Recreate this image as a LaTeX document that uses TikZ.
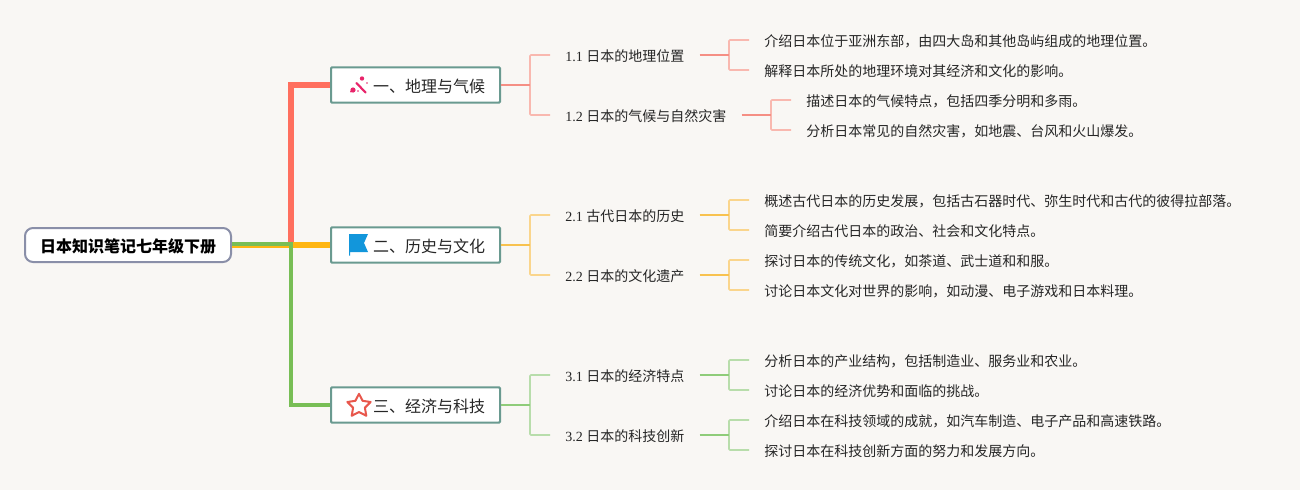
\documentclass[tikz,border=0pt]{standalone}
\usepackage{fontspec}
\setmainfont{Liberation Serif}
\newfontfamily\cjk{Noto Sans CJK SC}
\definecolor{bg}{HTML}{F9F7F4}
\definecolor{txt}{HTML}{262626}
\definecolor{mainred}{HTML}{FF6F5E}
\definecolor{mainyel}{HTML}{FFB612}
\definecolor{maingrn}{HTML}{78BE55}
\definecolor{rootedge}{HTML}{8A8FA8}
\definecolor{boxedge}{HTML}{6A9A90}
\definecolor{redA}{HTML}{F58F84}\definecolor{redB}{HTML}{F9B8AF}
\definecolor{yelA}{HTML}{F8C24F}\definecolor{yelB}{HTML}{FAD58C}
\definecolor{grnA}{HTML}{8FCC7A}\definecolor{grnB}{HTML}{B8DDAB}
\definecolor{wandc}{HTML}{E8246A}
\definecolor{flagb}{HTML}{1296DB}
\definecolor{starc}{HTML}{E8574C}
\tikzset{
  x=0.75pt,y=-0.75pt,
  rootbox/.style={draw=rootedge,line width=1.5pt,fill=white,rounded corners=6pt,minimum width=154.5pt,minimum height=25.5pt,inner sep=0pt,text height=12.7pt,text depth=2pt,font=\cjk\bfseries\fontsize{12pt}{14pt}\selectfont,text=black},
  branchbox/.style={draw=boxedge,line width=1.5pt,fill=white,rounded corners=0.8pt,minimum height=26.5pt,inner ysep=0pt,inner xsep=11.25pt,text width=104.25pt,align=right,text height=12.7pt,text depth=2pt,font=\cjk\fontsize{12pt}{14pt}\selectfont,text=txt},
  subbox/.style={anchor=west,inner xsep=11.25pt,inner ysep=0pt,minimum height=15pt,text height=11pt,text depth=1.5pt,font=\fontsize{10.5pt}{13pt}\selectfont,text=txt},
  leafbox/.style={anchor=west,inner xsep=11.25pt,inner ysep=0pt,minimum height=15pt,text height=11pt,text depth=1.5pt,font=\cjk\fontsize{10.5pt}{13pt}\selectfont,text=txt},
  mainlink/.style={line width=4.5pt,line join=miter},
  stub/.style={line width=1.2pt},
  twig/.style={line width=1.2pt,rounded corners=0.8pt},
}
\newcommand{\fork}[5]{% parent, child1, child2, midx, colours
  \draw[twig,#5B] (#2.west) -| (#4,0 |- #1.east) |- (#3.west);
  \draw[stub,#5A] (#1.east) -- (#4,0 |- #1.east);
}
\begin{document}
\begin{tikzpicture}
\path[fill=bg,use as bounding box] (0,0) rectangle (1300,490);
% nodes
\node[rootbox] (root) at (128,245) {日本知识笔记七年级下册};
\node[branchbox] (b1) at (415.5,85) {一、地理与气候};
\node[branchbox] (b2) at (415.5,245) {二、历史与文化};
\node[branchbox] (b3) at (415.5,405) {三、经济与科技};
\node[subbox] (s11) at (550,55) {1.1 {\cjk 日本的地理位置}};
\node[subbox] (s12) at (550,115) {1.2 {\cjk 日本的气候与自然灾害}};
\node[subbox] (s21) at (550,215) {2.1 {\cjk 古代日本的历史}};
\node[subbox] (s22) at (550,275) {2.2 {\cjk 日本的文化遗产}};
\node[subbox] (s31) at (550,375) {3.1 {\cjk 日本的经济特点}};
\node[subbox] (s32) at (550,435) {3.2 {\cjk 日本的科技创新}};
\node[leafbox] (l1) at (749,40) {介绍日本位于亚洲东部，由四大岛和其他岛屿组成的地理位置。};
\node[leafbox] (l2) at (749,70) {解释日本所处的地理环境对其经济和文化的影响。};
\node[leafbox] (l3) at (791,100) {描述日本的气候特点，包括四季分明和多雨。};
\node[leafbox] (l4) at (791,130) {分析日本常见的自然灾害，如地震、台风和火山爆发。};
\node[leafbox] (l5) at (749,200) {概述古代日本的历史发展，包括古石器时代、弥生时代和古代的彼得拉部落。};
\node[leafbox] (l6) at (749,230) {简要介绍古代日本的政治、社会和文化特点。};
\node[leafbox] (l7) at (749,260) {探讨日本的传统文化，如茶道、武士道和和服。};
\node[leafbox] (l8) at (749,290) {讨论日本文化对世界的影响，如动漫、电子游戏和日本料理。};
\node[leafbox] (l9) at (749,360) {分析日本的产业结构，包括制造业、服务业和农业。};
\node[leafbox] (l10) at (749,390) {讨论日本的经济优势和面临的挑战。};
\node[leafbox] (l11) at (749,420) {介绍日本在科技领域的成就，如汽车制造、电子产品和高速铁路。};
\node[leafbox] (l12) at (749,450) {探讨日本在科技创新方面的努力和发展方向。};
% main links
\coordinate (j) at (291,245);
\draw[mainlink,mainred] (root.east) -- (j) |- (b1.west);
\draw[mainlink,mainyel] (root.east) -- (b2.west);
\draw[line width=3.2pt,maingrn] ([yshift=1pt]root.east) -- ([yshift=1pt]j) |- (b3.west);
% forks
\fork{b1}{s11}{s12}{530}{red}
\fork{s11}{l1}{l2}{729}{red}
\fork{s12}{l3}{l4}{771}{red}
\fork{b2}{s21}{s22}{530}{yel}
\fork{s21}{l5}{l6}{729}{yel}
\fork{s22}{l7}{l8}{729}{yel}
\fork{b3}{s31}{s32}{530}{grn}
\fork{s31}{l9}{l10}{729}{grn}
\fork{s32}{l11}{l12}{729}{grn}
% icon: wand
\draw[wandc,line width=1.6pt,line cap=round] (356.5,83) -- (365.5,92.5);
\fill[wandc] (353,90) circle (2.6);
\fill[wandc] (362,78.5) circle (2.2);
\fill[wandc] (351,91.5) circle (1);
\fill[wandc] (367,83) circle (0.9);
\fill[wandc] (358,91) circle (0.9);
% icon: flag
\fill[flagb] (349,234) -- (368,234) -- (364,243) -- (368,252) -- (350,252) -- (350,255.5) -- (349,255.5) -- cycle;
% icon: star
\draw[draw=starc,line width=1.5pt,line join=round,fill=white]
  (359,393.8) -- (362.6,400.8) -- (370.6,402) -- (364.9,407.7) -- (366.3,415.8)
  -- (359,412) -- (351.7,415.8) -- (353.1,407.7) -- (347.4,402) -- (355.4,400.8) -- cycle;
\end{tikzpicture}
\end{document}
